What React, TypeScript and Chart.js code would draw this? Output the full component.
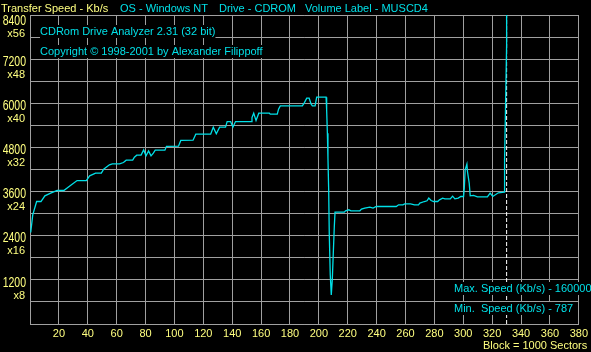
import { useEffect, useRef } from 'react';
import { Chart, registerables } from 'chart.js';

Chart.register(...registerables);

// Block number (x 1000 sectors)
const blocks = [
  0.5, 1.9, 4.6, 7.6, 10.3, 14.3, 18.8, 23.4, 28.7, 32.6, 39, 41.3, 45.4, 49.4, 51, 55, 57, 62,
  64.7, 66.6, 71.1, 72.3, 73.9, 76.9, 78.7, 80.3, 82.1, 83.8, 85.4, 86.7, 93.4, 94.5, 102.8,
  104.4, 112.9, 114.8, 125.1, 126.9, 129, 131.3, 135.4, 136.5, 138.9, 140.5, 142.3, 153.1,
  153.7, 154.9, 156.5, 158.4, 165.7, 166.4, 171.2, 172.1, 173.3, 188.6, 190, 191.6, 193.3,
  194.6, 195.5, 197.4, 198.5, 205, 205.4, 205.9, 206.3, 206.8, 207.2, 207.9, 208.6, 209.3,
  210, 210.7, 211.2, 217.6, 218.5, 220.8, 222.2, 228.4, 229.5, 231.8, 235.3, 237.5, 239.8,
  253.6, 255.2, 258.2, 259.4, 263.5, 266.2, 269, 269.9, 273.1, 274.9, 276.1, 277.7, 279.5,
  282.3, 283.5, 285.7, 287.3, 291, 292.6, 294.2, 296.5, 298.3, 300.2, 300.7, 301.3, 302.5,
  302.9, 304.1, 304.8, 307.1, 309.8, 316.7, 318.6, 320.4, 324.3, 328.4, 328.6, 329.3, 330,
  330.5,
];

// Transfer speed, Kb/s
const speeds = [
  2488, 2968, 3330, 3330, 3485, 3558, 3629, 3629, 3783, 3900, 3900, 4028, 4101, 4101, 4210, 4327, 4354, 4354,
  4389, 4454, 4454, 4536, 4590, 4590, 4734, 4571, 4707, 4571, 4644, 4726, 4726, 4830, 4834,
  4990, 4997, 5160, 5160, 5350, 5169, 5350, 5350, 5503, 5503, 5350, 5503, 5503,
  5611, 5731, 5530, 5731, 5731, 5704, 5704, 5839, 5929, 5929, 6019, 6138, 6138,
  5983, 5929, 5929, 6165, 6165, 5820, 5188, 4509, 3648, 2471, 1339, 787, 1203,
  1928, 2651, 3042, 3042, 3077, 3104, 3077, 3077, 3123, 3150, 3178, 3150, 3194,
  3194, 3240, 3240, 3267, 3267, 3240, 3240, 3286, 3330, 3349, 3422, 3357, 3330,
  3330, 3376, 3422, 3403, 3403, 3476, 3403, 3422, 3466, 3466, 3694, 4191, 4346,
  4145, 3830, 3485, 3494, 3458, 3458, 3558, 3466, 3566, 3585, 4462, 6011, 7586,
  1600000,
];

const markerBlock = 330;
const yLabelValues = [1200, 2400, 3600, 4800, 6000, 7200, 8400];
const yLabelMultipliers = ['x8', 'x16', 'x24', 'x32', 'x40', 'x48', 'x56'];

const headerTitle = 'Transfer Speed - Kb/s';
const headerInfo = ['OS - Windows NT', 'Drive - CDROM', 'Volume Label - MUSCD4'];
const programLines = ['CDRom Drive Analyzer 2.31 (32 bit)', 'Copyright \u00A9 1998-2001 by Alexander Filippoff'];
const statLines = ['Max. Speed (Kb/s) - 1600000', 'Min.  Speed (Kb/s) - 787'];
const blockNote = 'Block = 1000 Sectors';

const YELLOW = '#ffff80';
const CYAN = '#00e0e8';
const GRID = '#a0a0a0';
const SMALL = '11px "Liberation Sans", Arial, sans-serif';
const BIG = '14px "Liberation Sans", Arial, sans-serif';

function bgText(ctx: CanvasRenderingContext2D, text: string, x: number, baseline: number, color: string) {
  const w = ctx.measureText(text).width;
  ctx.fillStyle = '#000';
  ctx.fillRect(x, baseline - 10, w, 13);
  ctx.fillStyle = color;
  ctx.fillText(text, x, baseline);
}

const textPlugin = {
  id: 'cdaTexts',
  afterDraw(chart: any) {
    const ctx: CanvasRenderingContext2D = chart.ctx;
    const { left } = chart.chartArea;
    const ys = chart.scales.y;
    ctx.save();
    ctx.textBaseline = 'alphabetic';

    // y labels (value line in a tall condensed face, multiplier line below)
    ctx.textAlign = 'right';
    yLabelValues.forEach((v, i) => {
      const py = ys.getPixelForValue(v);
      const shift = v === ys.max ? 3 : 0;
      ctx.fillStyle = YELLOW;
      ctx.save();
      ctx.translate(left - 4, py + 6.7 + shift);
      ctx.scale(0.75, 1);
      ctx.font = BIG;
      ctx.fillText(String(v), 0, 0);
      ctx.restore();
      ctx.font = SMALL;
      ctx.fillText(yLabelMultipliers[i], left - 5, py + 18.7 + shift);
    });

    ctx.textAlign = 'left';
    ctx.font = SMALL;
    // header
    ctx.fillStyle = YELLOW;
    ctx.fillText(headerTitle, 1, 12);
    ctx.fillStyle = CYAN;
    const hx = [120, 219, 305];
    headerInfo.forEach((t, i) => ctx.fillText(t, hx[i], 12));

    // program info inside plot
    bgText(ctx, programLines[0], 40, 35, CYAN);
    bgText(ctx, programLines[1], 40, 55, CYAN);

    // stats
    bgText(ctx, statLines[0], 454, 292, CYAN);
    bgText(ctx, statLines[1], 454, 312, CYAN);

    ctx.fillStyle = YELLOW;
    ctx.fillText(blockNote, 483, 349);
    ctx.restore();
  },
};

export default function App() {
  const ref = useRef<HTMLCanvasElement>(null);

  useEffect(() => {
    document.body.style.margin = '0';
    document.body.style.background = '#000';
    const canvas = ref.current!;
    const chart = new Chart(canvas, {
      type: 'line',
      data: {
        datasets: [
          {
            data: blocks.map((b, i) => ({ x: b, y: speeds[i] })),
            borderColor: CYAN,
            borderWidth: 1.3,
            pointRadius: 0,
            tension: 0,
          },
          {
            data: [
              { x: markerBlock, y: 0 },
              { x: markerBlock, y: 8400 },
            ],
            borderColor: '#ffffff',
            borderWidth: 1,
            borderDash: [4, 2],
            pointRadius: 0,
          },
        ],
      },
      options: {
        responsive: false,
        animation: false,
        devicePixelRatio: 1,
        layout: { padding: { top: 15, right: 9, left: 0, bottom: 0 } },
        plugins: { legend: { display: false }, tooltip: { enabled: false } },
        scales: {
          x: {
            type: 'linear',
            min: 0,
            max: 380,
            afterFit: (s: any) => {
              s.height = 28;
            },
            ticks: {
              stepSize: 20,
              autoSkip: false,
              maxRotation: 0,
              color: YELLOW,
              font: { family: '"Liberation Sans", Arial, sans-serif', size: 11 },
              padding: 3,
              callback: (v: any) => (v === 0 ? '' : String(v)),
            },
            grid: { color: GRID, drawTicks: false, lineWidth: 1 },
            border: { color: GRID },
          },
          y: {
            min: 0,
            max: 8400,
            afterFit: (s: any) => {
              s.width = 30;
            },
            ticks: { stepSize: 600, display: false },
            grid: { color: GRID, drawTicks: false, lineWidth: 1 },
            border: { color: GRID },
          },
        },
      },
      plugins: [textPlugin],
    });
    return () => chart.destroy();
  }, []);

  return (
    <div style={{ width: 591, height: 352, background: '#000' }}>
      <canvas ref={ref} width={591} height={352} style={{ display: 'block', background: '#000' }} />
    </div>
  );
}
